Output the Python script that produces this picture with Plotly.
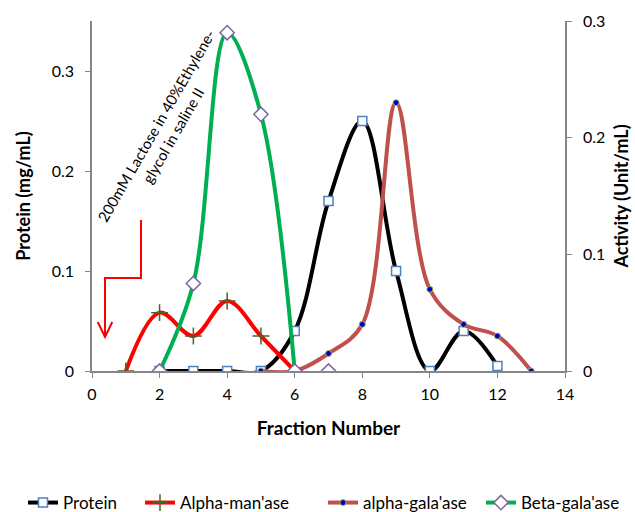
import plotly.graph_objects as go

# ---- data ----
protein_x = [2, 3, 4, 5, 6, 7, 8, 9, 10, 11, 12]
protein_y = [0, 0, 0, 0, 0.04, 0.17, 0.25, 0.10, 0, 0.04, 0.005]

man_x = [1, 2, 3, 4, 5, 6]
man_y = [0, 0.05, 0.03, 0.06, 0.03, 0]

agal_x = [5, 6, 7, 8, 9, 10, 11, 12, 13]
agal_y = [0, 0, 0.015, 0.04, 0.23, 0.07, 0.04, 0.03, 0]

bgal_x = [2, 3, 4, 5, 6]
bgal_y = [0, 0.075, 0.29, 0.22, 0]
bgal_extra_x = [7]
bgal_extra_y = [0]

x_ticks = [0, 2, 4, 6, 8, 10, 12, 14]
left_ticks = [0, 0.1, 0.2, 0.3]
right_ticks = [0, 0.1, 0.2, 0.3]

FONT = "Lato"
AXIS_COLOR = "#868686"
LW = 4

fig = go.Figure()

fig.add_trace(go.Scatter(
    x=protein_x, y=protein_y, name="Protein", mode="lines+markers",
    line=dict(color="black", width=LW, shape="spline", smoothing=1),
    marker=dict(symbol="square", size=9, color="white",
                line=dict(color="#4F81BD", width=1.5)),
    yaxis="y", legend="legend"))

fig.add_trace(go.Scatter(
    x=man_x, y=man_y, name="Alpha-man'ase", mode="lines+markers",
    line=dict(color="#FF0000", width=LW, shape="spline", smoothing=1),
    marker=dict(symbol="cross-thin", size=12, color="#4F6228",
                line=dict(color="#4F6228", width=1.5)),
    yaxis="y2", legend="legend2"))

fig.add_trace(go.Scatter(
    x=agal_x, y=agal_y, name="alpha-gala'ase", mode="lines+markers",
    line=dict(color="#C0504D", width=LW, shape="spline", smoothing=1),
    marker=dict(symbol="circle", size=6, color="#0000CC",
                line=dict(color="#9BBB59", width=1)),
    yaxis="y2", legend="legend3"))

fig.add_trace(go.Scatter(
    x=bgal_x, y=bgal_y, name="Beta-gala'ase", mode="lines+markers",
    line=dict(color="#00B050", width=LW, shape="spline", smoothing=1),
    marker=dict(symbol="diamond", size=11, color="white",
                line=dict(color="#8064A2", width=1.5)),
    yaxis="y2", legend="legend4"))

fig.add_trace(go.Scatter(
    x=bgal_extra_x, y=bgal_extra_y, name="Beta-gala'ase", mode="markers",
    showlegend=False,
    marker=dict(symbol="diamond", size=11, color="white",
                line=dict(color="#8064A2", width=1.5)),
    yaxis="y2"))

# red bent arrow (annotation)
fig.add_shape(type="path", xref="x", yref="y",
              path="M 1.45,0.151 L 1.45,0.093 L 0.385,0.093 L 0.385,0.035",
              line=dict(color="#FF0000", width=2))
fig.add_shape(type="path", xref="x", yref="y",
              path="M 0.17,0.049 L 0.385,0.034 L 0.60,0.049",
              line=dict(color="#FF0000", width=2))

fig.add_annotation(
    x=2.16, y=0.241, xref="x", yref="y",
    text="200mM Lactose in 40%Ethylene-<br>glycol in saline II",
    textangle=-60, showarrow=False, xanchor="center", yanchor="middle",
    font=dict(family=FONT, size=15, color="black"), align="center")


def leg(text_left_px):
    return dict(orientation="h", xref="container", x=(text_left_px - 40) / 635,
                xanchor="left", yref="container", y=(512 - 503) / 512,
                yanchor="middle", font=dict(size=17, family=FONT),
                itemwidth=30, bgcolor="rgba(0,0,0,0)")


fig.update_layout(
    width=635, height=512,
    margin=dict(l=92, r=70, t=21, b=141),
    plot_bgcolor="white", paper_bgcolor="white",
    font=dict(family=FONT, color="black"),
    showlegend=True,
    legend=leg(63),
    legend2=leg(180),
    legend3=leg(363),
    legend4=leg(521),
    xaxis=dict(range=[0, 14], tickvals=x_ticks, showgrid=False, zeroline=False,
               showline=True, linecolor=AXIS_COLOR, linewidth=1.5,
               ticks="outside", tickcolor=AXIS_COLOR, ticklen=5,
               ticklabelstandoff=3, automargin=False,
               tickfont=dict(size=16, family=FONT),
               title=dict(text="<b>Fraction Number</b>",
                          font=dict(size=19, family=FONT), standoff=20)),
    yaxis=dict(range=[0, 0.35], tickvals=left_ticks, ticktext=["0", "0.1", "0.2", "0.3"],
               showgrid=False, zeroline=False,
               showline=True, linecolor=AXIS_COLOR, linewidth=1.5,
               ticks="outside", tickcolor=AXIS_COLOR, ticklen=5,
               ticklabelstandoff=8, automargin=False,
               tickfont=dict(size=16, family=FONT),
               title=dict(text="<b>Protein (mg/mL)</b>",
                          font=dict(size=18, family=FONT), standoff=16)),
    yaxis2=dict(range=[0, 0.3], tickvals=right_ticks, ticktext=["0", "0.1", "0.2", "0.3"],
                overlaying="y", side="right", showgrid=False, zeroline=False,
                showline=True, linecolor=AXIS_COLOR, linewidth=1.5,
                ticks="outside", tickcolor=AXIS_COLOR, ticklen=5,
                ticklabelstandoff=8, automargin=False,
                tickfont=dict(size=16, family=FONT),
                title=dict(text="<b>Activity (Unit/mL)</b>",
                           font=dict(size=18, family=FONT), standoff=11)),
)

fig.write_html("out.html")
